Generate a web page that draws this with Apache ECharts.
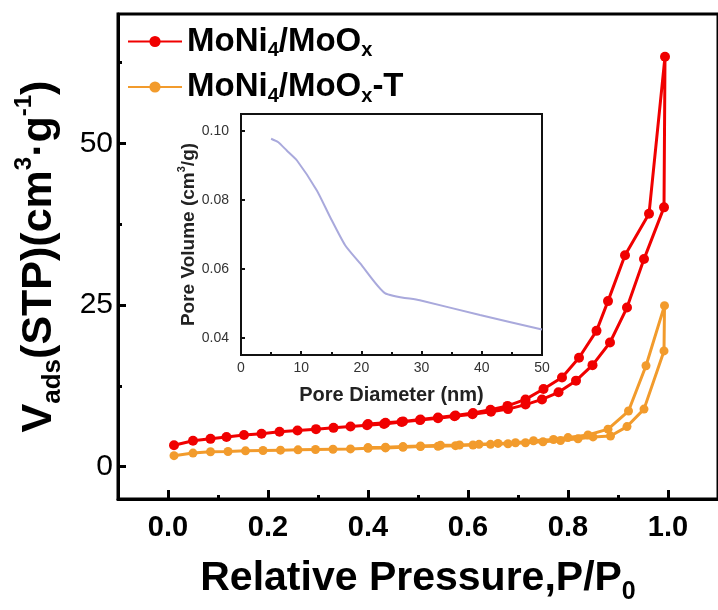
<!DOCTYPE html>
<html>
<head>
<meta charset="utf-8">
<script src="https://cdn.jsdelivr.net/npm/echarts@6/dist/echarts.min.js"></script>
<style>
  html, body { margin: 0; padding: 0; background: #fff; }
  #chart { width: 718px; height: 610px; }
</style>
</head>
<body>
<div id="chart"></div>
<script>
// N2 adsorption-desorption isotherms (relative pressure vs adsorbed volume)
const seriesNames = ['MoNi4/MoOx', 'MoNi4/MoOx-T'];

// MoNi4/MoOx: adsorption branch, then desorption branch
const redAdsP = [0.012, 0.05, 0.085, 0.117, 0.152, 0.187, 0.223, 0.259, 0.296, 0.331, 0.365, 0.398, 0.432, 0.467, 0.504, 0.540, 0.573, 0.609, 0.646, 0.680, 0.715, 0.748, 0.781, 0.816, 0.849, 0.884, 0.918, 0.952, 0.992, 0.994];
const redAdsV = [3.3, 4.0, 4.3, 4.6, 4.9, 5.1, 5.4, 5.6, 5.8, 6.0, 6.2, 6.4, 6.6, 6.9, 7.2, 7.5, 7.8, 8.1, 8.5, 8.9, 9.6, 10.4, 11.5, 13.3, 15.7, 19.2, 24.6, 32.1, 40.1, 63.4];
const redDesP = [0.962, 0.914, 0.880, 0.857, 0.822, 0.788, 0.751, 0.715, 0.679, 0.645, 0.610, 0.575, 0.540, 0.505, 0.470, 0.435, 0.400];
const redDesV = [39.1, 32.7, 25.6, 21.0, 16.85, 13.8, 12.0, 10.4, 9.4, 8.8, 8.3, 7.9, 7.6, 7.3, 7.0, 6.8, 6.6];

// MoNi4/MoOx-T: adsorption branch, then desorption branch
const orAdsP = [0.012, 0.05, 0.085, 0.12, 0.155, 0.19, 0.225, 0.26, 0.295, 0.33, 0.365, 0.40, 0.435, 0.47, 0.505, 0.54, 0.575, 0.61, 0.645, 0.68, 0.715, 0.75, 0.785, 0.82, 0.85, 0.885, 0.918, 0.952, 0.992, 0.993];
const orAdsV = [1.7, 2.1, 2.3, 2.35, 2.45, 2.5, 2.55, 2.6, 2.65, 2.7, 2.75, 2.85, 2.9, 3.0, 3.1, 3.15, 3.25, 3.35, 3.45, 3.55, 3.7, 3.85, 4.05, 4.3, 4.6, 4.75, 6.2, 8.9, 17.9, 24.9];
const orDesP = [0.956, 0.921, 0.880, 0.840, 0.800, 0.771, 0.731, 0.695, 0.660, 0.622, 0.583, 0.545, 0.505, 0.470, 0.435, 0.400];
const orDesV = [15.6, 8.6, 5.8, 4.9, 4.5, 4.2, 4.0, 3.7, 3.6, 3.45, 3.35, 3.3, 3.2, 3.1, 3.0, 2.95];

// Pore size distribution (inset)
const poreD = [5, 6.2, 7.6, 9.3, 12.6, 14.8, 17.3, 19.8, 23.9, 29.7, 39.7, 50];
const poreV = [0.0978, 0.0968, 0.0944, 0.0915, 0.0828, 0.0751, 0.0669, 0.0616, 0.0530, 0.0509, 0.0466, 0.0424];

// Tick values
const xMajorTicks = [0, 0.2, 0.4, 0.6, 0.8, 1.0];
const xMinorTicks = [0.1, 0.3, 0.5, 0.7, 0.9];
const yMajorTicks = [0, 25, 50];
const yMinorTicks = [12.5, 37.5, 62.5];
const insetYTicks = [0.04, 0.06, 0.08, 0.10];

const FONT = '"Liberation Sans", Arial, sans-serif';
const RED = '#f00000';
const ORANGE = '#f29b2c';

function zip(xs, ys) { return xs.map((x, i) => [x, ys[i]]); }
const redData = zip(redAdsP, redAdsV).concat(zip(redDesP, redDesV));
const orData = zip(orAdsP, orAdsV).concat(zip(orDesP, orDesV));
const poreData = zip(poreD, poreV);

const legendRich = {
  b: { fontFamily: FONT, fontSize: 33, fontWeight: 'bold', color: '#000', lineHeight: 38 },
  s: { fontFamily: FONT, fontSize: 20, fontWeight: 'bold', color: '#000', verticalAlign: 'bottom' }
};
const legendText = {
  'MoNi4/MoOx': '{b|MoNi}{s|4}{b|/MoO}{s|x}',
  'MoNi4/MoOx-T': '{b|MoNi}{s|4}{b|/MoO}{s|x}{b|-T}'
};

const chart = echarts.init(document.getElementById('chart'), null, { renderer: 'canvas' });

chart.setOption({
  animation: false,
  backgroundColor: '#fff',
  grid: [
    { left: 118, top: 14, right: -6, bottom: 111, show: true, borderColor: '#000', borderWidth: 3 },
    { left: 241, top: 114, width: 301, height: 241, show: true, borderColor: '#111', borderWidth: 2 }
  ],
  legend: {
    data: seriesNames,
    orient: 'vertical',
    left: 122,
    top: 20,
    itemGap: 10,
    itemWidth: 54,
    itemHeight: 14,
    formatter: n => legendText[n],
    textStyle: { rich: legendRich }
  },
  xAxis: [
    {
      type: 'value', gridIndex: 0, min: -0.1, max: 1.1,
      name: '{b|Relative Pressure,P/P}{s|0}',
      nameLocation: 'middle', nameGap: 54,
      nameTextStyle: {
        rich: {
          b: { fontFamily: FONT, fontSize: 41, fontWeight: 'bold', color: '#000', lineHeight: 52 },
          s: { fontFamily: FONT, fontSize: 25, fontWeight: 'bold', color: '#000', verticalAlign: 'bottom' }
        }
      },
      axisLine: { show: true, onZero: false, lineStyle: { color: '#000', width: 3 } },
      axisTick: { show: true, inside: true, length: 9, customValues: xMajorTicks, lineStyle: { color: '#000', width: 3 } },
      axisLabel: {
        customValues: xMajorTicks, margin: 14,
        fontFamily: FONT, fontSize: 29, fontWeight: 'bold', color: '#000',
        formatter: v => v.toFixed(1)
      },
      splitLine: { show: false }
    },
    {
      type: 'value', gridIndex: 0, min: -0.1, max: 1.1, position: 'bottom',
      axisLine: { show: false, onZero: false },
      axisTick: { show: true, inside: true, length: 4, customValues: xMinorTicks, lineStyle: { color: '#000', width: 3 } },
      axisLabel: { show: false },
      splitLine: { show: false }
    },
    {
      type: 'value', gridIndex: 1, min: 0, max: 50, interval: 10,
      name: 'Pore Diameter (nm)',
      nameLocation: 'middle', nameGap: 30,
      nameTextStyle: { fontFamily: FONT, fontSize: 20, fontWeight: 'bold', color: '#222' },
      axisLine: { show: true, onZero: false, lineStyle: { color: '#111', width: 2 } },
      axisTick: { show: true, inside: true, length: 4, lineStyle: { color: '#111', width: 2 } },
      minorTick: { show: true, splitNumber: 2, length: 3, lineStyle: { color: '#111', width: 2 } },
      axisLabel: { margin: 6, fontFamily: FONT, fontSize: 14, color: '#333' },
      splitLine: { show: false }
    }
  ],
  yAxis: [
    {
      type: 'value', gridIndex: 0, min: -5, max: 70,
      name: '{b|V}{s|ads}{b|(STP)(cm}{p|3}{b|·g}{p|-1}{b|)}',
      nameLocation: 'middle', nameGap: 52,
      nameTextStyle: {
        rich: {
          b: { fontFamily: FONT, fontSize: 43, fontWeight: 'bold', color: '#000', lineHeight: 54 },
          s: { fontFamily: FONT, fontSize: 26, fontWeight: 'bold', color: '#000', verticalAlign: 'bottom' },
          p: { fontFamily: FONT, fontSize: 24, fontWeight: 'bold', color: '#000', verticalAlign: 'top' }
        }
      },
      axisLine: { show: true, onZero: false, lineStyle: { color: '#000', width: 3 } },
      axisTick: { show: true, inside: true, length: 8, customValues: yMajorTicks, lineStyle: { color: '#000', width: 3 } },
      axisLabel: {
        customValues: yMajorTicks, margin: 5,
        fontFamily: FONT, fontSize: 30, color: '#000'
      },
      splitLine: { show: false }
    },
    {
      type: 'value', gridIndex: 0, min: -5, max: 70, position: 'left',
      axisLine: { show: false, onZero: false },
      axisTick: { show: true, inside: true, length: 4, customValues: yMinorTicks, lineStyle: { color: '#000', width: 3 } },
      axisLabel: { show: false },
      splitLine: { show: false }
    },
    {
      type: 'value', gridIndex: 1, min: 0.035, max: 0.105,
      name: '{b|Pore Volume (cm}{p|3}{b|/g)}',
      nameLocation: 'middle', nameGap: 35,
      nameTextStyle: {
        rich: {
          b: { fontFamily: FONT, fontSize: 19, fontWeight: 'bold', color: '#222', lineHeight: 24 },
          p: { fontFamily: FONT, fontSize: 11, fontWeight: 'bold', color: '#222', verticalAlign: 'top' }
        }
      },
      axisLine: { show: true, onZero: false, lineStyle: { color: '#111', width: 2 } },
      axisTick: { show: true, inside: true, length: 4, customValues: insetYTicks, lineStyle: { color: '#111', width: 2 } },
      axisLabel: {
        customValues: insetYTicks, margin: 12,
        fontFamily: FONT, fontSize: 14, color: '#333',
        formatter: v => v.toFixed(2)
      },
      splitLine: { show: false }
    }
  ],
  series: [
    {
      name: seriesNames[0], type: 'line', xAxisIndex: 0, yAxisIndex: 0,
      data: redData, symbol: 'circle', symbolSize: 10,
      lineStyle: { color: RED, width: 3 }, itemStyle: { color: RED }, z: 3
    },
    {
      name: seriesNames[1], type: 'line', xAxisIndex: 0, yAxisIndex: 0,
      data: orData, symbol: 'circle', symbolSize: 9,
      lineStyle: { color: ORANGE, width: 3 }, itemStyle: { color: ORANGE }, z: 2
    },
    {
      name: 'PSD', type: 'line', xAxisIndex: 2, yAxisIndex: 2,
      data: poreData, symbol: 'none', smooth: 0.2,
      lineStyle: { color: '#a9a9dc', width: 2 }, z: 4
    }
  ]
});
</script>
</body>
</html>
